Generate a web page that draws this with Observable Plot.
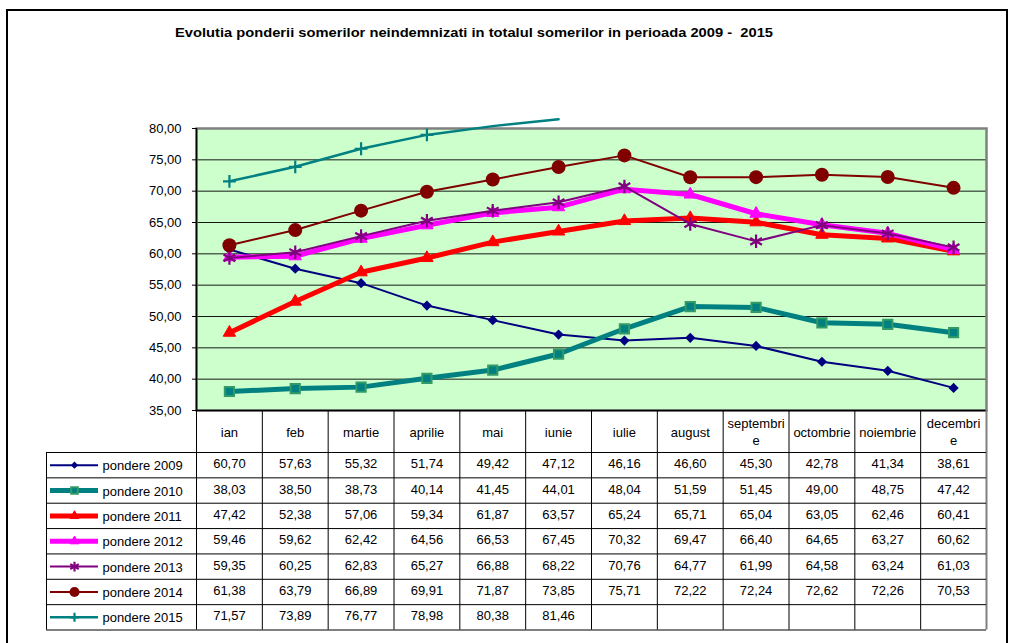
<!DOCTYPE html>
<html>
<head>
<meta charset="utf-8">
<script src="https://cdn.jsdelivr.net/npm/d3@7"></script>
<script src="https://cdn.jsdelivr.net/npm/@observablehq/plot@0.6"></script>
<style>
  html, body { margin: 0; padding: 0; background: #fff; }
  #wrap { position: relative; width: 1012px; height: 643px; overflow: hidden; background: #fff; font-family: "Liberation Sans", Arial, sans-serif; }
  #frame { position: absolute; left: 6px; top: 9px; width: 998px; height: 700px; border: 2px solid #000; }
  #title { position: absolute; left: 175px; top: 25px; font-weight: bold; font-size: 13px; white-space: pre; transform-origin: 0 0; color: #000; }
  .layer { position: absolute; left: 0; top: 0; }
</style>
</head>
<body>
<div id="wrap">
  <div id="frame"></div>
  <div id="title">Evolutia ponderii somerilor neindemnizati in totalul somerilor in perioada 2009 -  2015</div>
  <div id="chart" class="layer"></div>
  <div id="table" class="layer"></div>
</div>
<script>
// ---- data ----
const months = ["ian","feb","martie","aprilie","mai","iunie","iulie","august","septembrie","octombrie","noiembrie","decembrie"];
const monthLabels = ["ian","feb","martie","aprilie","mai","iunie","iulie","august","septembri\ne","octombrie","noiembrie","decembri\ne"];
const seriesNames = ["pondere 2009","pondere 2010","pondere 2011","pondere 2012","pondere 2013","pondere 2014","pondere 2015"];
const v2009 = [60.70,57.63,55.32,51.74,49.42,47.12,46.16,46.60,45.30,42.78,41.34,38.61];
const v2010 = [38.03,38.50,38.73,40.14,41.45,44.01,48.04,51.59,51.45,49.00,48.75,47.42];
const v2011 = [47.42,52.38,57.06,59.34,61.87,63.57,65.24,65.71,65.04,63.05,62.46,60.41];
const v2012 = [59.46,59.62,62.42,64.56,66.53,67.45,70.32,69.47,66.40,64.65,63.27,60.62];
const v2013 = [59.35,60.25,62.83,65.27,66.88,68.22,70.76,64.77,61.99,64.58,63.24,61.03];
const v2014 = [61.38,63.79,66.89,69.91,71.87,73.85,75.71,72.22,72.24,72.62,72.26,70.53];
const v2015 = [71.57,73.89,76.77,78.98,80.38,81.46];
const yTicks = [35,40,45,50,55,60,65,70,75,80];

// ---- styles ----
const styles = [
  {stroke:"#000080", sw:2,   symbol:"diamond2", fill:"#000080", mstroke:"none",    msw:0,   r:4.6},
  {stroke:"#008080", sw:5,   symbol:"square",   fill:"#008080", mstroke:"#339966", msw:2,   r:5.2},
  {stroke:"#FF0000", sw:5,   symbol:"triangle", fill:"#FF0000", mstroke:"#FF0000", msw:1,   r:4.6},
  {stroke:"#FF00FF", sw:5,   symbol:"triangle", fill:"#FF00FF", mstroke:"#FF00FF", msw:1,   r:4.6},
  {stroke:"#800080", sw:2,   symbol:"asterisk", fill:"none",    mstroke:"#800080", msw:2.2, r:6.4},
  {stroke:"#800000", sw:2,   symbol:"circle",   fill:"#800000", mstroke:"none",    msw:0,   r:7},
  {stroke:"#008080", sw:2.5, symbol:"plus",     fill:"none",    mstroke:"#008080", msw:2.2, r:4.2}
];
const allValues = [v2009, v2010, v2011, v2012, v2013, v2014, v2015];
const series = seriesNames.map((name, si) => ({
  name, si, style: styles[si],
  points: allValues[si].map((v, i) => ({i, month: months[i], v}))
}));
const fmt = v => v.toFixed(2).replace(".", ",");
const FONT = "'Liberation Sans', Arial, sans-serif";

// ---- chart ----
const xRange = [196, 986];
const chartMarks = [
  Plot.frame({fill: "#CCFFCC"}),
  Plot.ruleY(yTicks.slice(1, -1), {stroke: "#000", strokeWidth: 1, strokeOpacity: 0.9}),
  Plot.frame({stroke: "#808080", strokeWidth: 2.5}),
  Plot.ruleX([0], {stroke: "#000", strokeWidth: 1.5}),
  Plot.ruleY([35], {stroke: "#000", strokeWidth: 1.5}),
  Plot.axisY({ticks: yTicks, tickFormat: fmt, tickSize: 4, tickPadding: 11, fontSize: 13, stroke: "#000", color: "#000", label: null})
];
for (const s of series) {
  const st = s.style;
  chartMarks.push(Plot.line(s.points, {x: d => d.i + 0.5, y: "v", stroke: st.stroke, strokeWidth: st.sw, strokeLinejoin: "round", strokeLinecap: "round"}));
  chartMarks.push(Plot.dot(s.points.filter(d => d.v <= 80), {x: d => d.i + 0.5, y: "v", symbol: st.symbol, r: st.r, fill: st.fill, stroke: st.mstroke, strokeWidth: st.msw}));
}
const chart = Plot.plot({
  width: 1012, height: 643,
  marginLeft: xRange[0], marginRight: 1012 - xRange[1], marginTop: 128, marginBottom: 233,
  style: {background: "transparent", fontFamily: FONT, fontSize: "13px", color: "#000"},
  x: {domain: [0, 12], axis: null, label: null},
  y: {domain: [35, 80], axis: null, label: null},
  marks: chartMarks
});
document.getElementById("chart").appendChild(chart);

// ---- data table ----
const colW = (xRange[1] - xRange[0]) / months.length;
const legL = -(xRange[0] - 46) / colW;      // left edge of legend column
const hdr = 42 / 25.36;                     // header row height in row units
const cells = [];
series.forEach(s => s.points.forEach(p => cells.push({i: p.i, si: s.si, v: p.v})));
const tableMarks = [
  Plot.ruleX(d3.range(0, 12), {y1: -hdr, y2: 7, stroke: "#000", strokeWidth: 1}),
  Plot.ruleX([12], {y1: -hdr, y2: 7, stroke: "#808080", strokeWidth: 2}),
  Plot.ruleX([legL], {y1: 0, y2: 7, stroke: "#000", strokeWidth: 1}),
  Plot.ruleY(d3.range(0, 8), {x1: legL, x2: 12, stroke: "#000", strokeWidth: 1}),
  Plot.text(monthLabels, {x: (d, i) => i + 0.5, y: -hdr / 2, text: d => d, lineHeight: 1.3, fontSize: 13, fill: "#000"}),
  Plot.text(cells, {x: d => d.i + 0.5, y: d => d.si + 0.5, text: d => fmt(d.v), fontSize: 13, fill: "#000", dy: -1}),
  Plot.text(series, {x: legL + 56 / colW, y: d => d.si + 0.5, text: "name", textAnchor: "start", fontSize: 13, fill: "#000", dy: 1})
];
for (const s of series) {
  const st = s.style;
  tableMarks.push(Plot.ruleY([s.si + 0.5], {x1: legL + 4 / colW, x2: legL + 52 / colW, stroke: st.stroke, strokeWidth: st.sw}));
  tableMarks.push(Plot.dot([s], {x: legL + 28 / colW, y: s.si + 0.5, symbol: st.symbol, r: st.r * 0.72, fill: st.fill, stroke: st.mstroke, strokeWidth: st.msw}));
}
const table = Plot.plot({
  width: 1012, height: 643,
  style: {background: "transparent", fontFamily: FONT, fontSize: "13px", color: "#000"},
  x: {domain: [0, 12], range: xRange, axis: null, label: null},
  y: {domain: [-hdr, 7], range: [410, 629.5], axis: null, label: null},
  marks: tableMarks
});
document.getElementById("table").appendChild(table);

// fit title width to reference span
const title = document.getElementById("title");
const w = title.getBoundingClientRect().width;
title.style.transform = `scaleX(${598 / w})`;
</script>
</body>
</html>
